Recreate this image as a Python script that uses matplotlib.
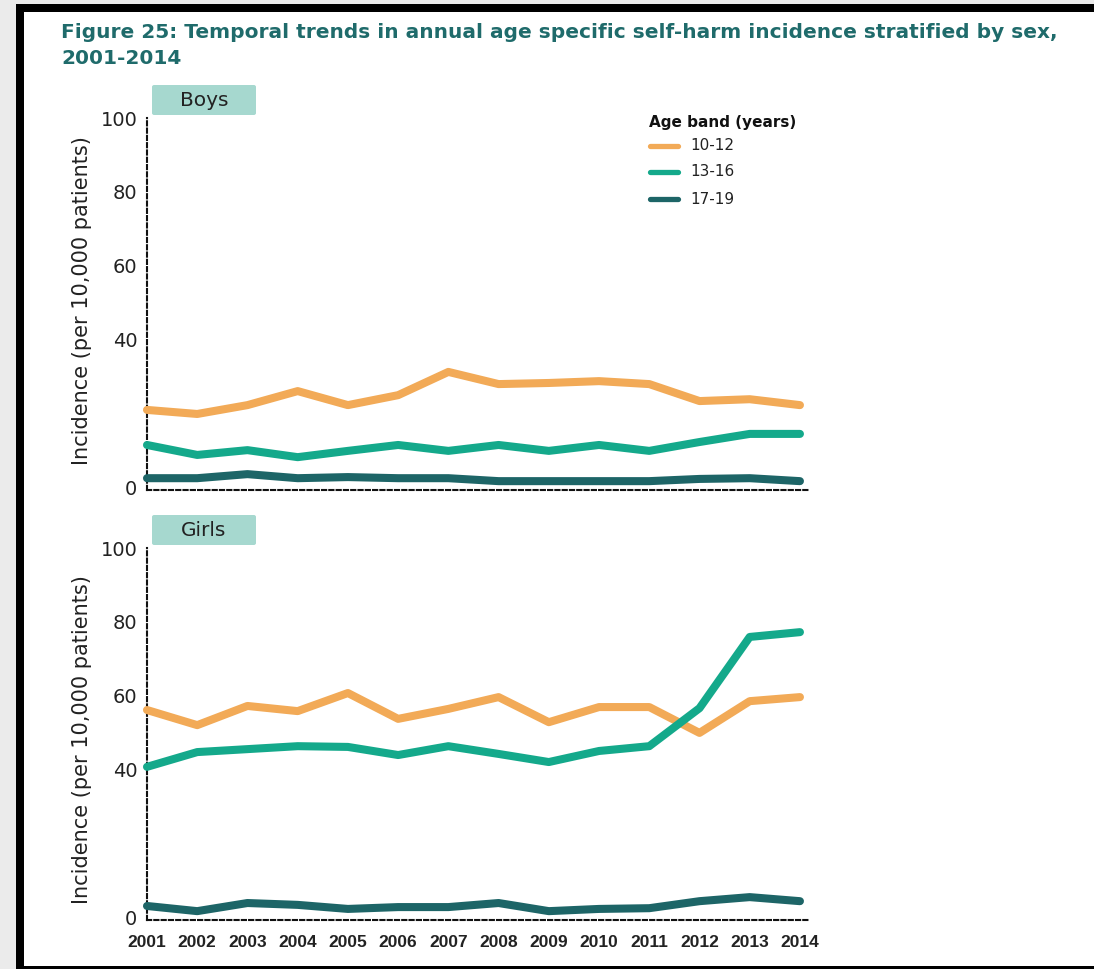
import matplotlib
matplotlib.use("Agg")
import matplotlib.pyplot as plt
from matplotlib.patches import Rectangle, FancyBboxPatch
from matplotlib.lines import Line2D

plt.rcParams['font.family'] = ['DejaVu Sans']

years = list(range(2001, 2015))
age_bands = ["10-12", "13-16", "17-19"]
band_colors = ["#F2AA57", "#14A98B", "#1D6567"]

boys_10_12 = [20.9, 19.8, 22.2, 26.0, 22.2, 24.9, 31.2, 27.9, 28.2, 28.7, 27.9, 23.3, 23.8, 22.2]
boys_13_16 = [11.4, 8.7, 10.0, 8.1, 9.8, 11.4, 9.8, 11.4, 9.8, 11.4, 9.8, 12.2, 14.4, 14.4]
boys_17_19 = [2.4, 2.4, 3.5, 2.4, 2.7, 2.4, 2.4, 1.6, 1.6, 1.6, 1.6, 2.2, 2.4, 1.6]

girls_10_12 = [56.1, 52.0, 57.2, 55.8, 60.7, 53.7, 56.4, 59.6, 52.8, 56.9, 56.9, 49.9, 58.5, 59.6]
girls_13_16 = [40.7, 44.7, 45.5, 46.3, 46.1, 43.9, 46.3, 44.2, 42.0, 45.0, 46.3, 56.6, 75.9, 77.2]
girls_17_19 = [3.0, 1.6, 3.8, 3.3, 2.2, 2.7, 2.7, 3.8, 1.6, 2.2, 2.4, 4.3, 5.4, 4.3]

panel_names = ["Boys", "Girls"]
panel_series = [[boys_10_12, boys_13_16, boys_17_19],
                [girls_10_12, girls_13_16, girls_17_19]]
y_ticks = [0, 40, 60, 80, 100]

W, H = 1094, 969
fig = plt.figure(figsize=(W / 100, H / 100), dpi=100)
fig.patch.set_facecolor("white")


def px(x, y):
    return x / W, 1 - y / H


# page background and frame
fig.add_artist(Rectangle((0, 0), 16 / W, 1, transform=fig.transFigure,
                         facecolor="#EBEBEB", edgecolor="none", zorder=0))
fig.add_artist(Rectangle((0, 1 - 4 / H), 1, 4 / H, transform=fig.transFigure,
                         facecolor="#EBEBEB", edgecolor="none", zorder=0))
fig.add_artist(Rectangle((16 / W, 0), 8 / W, 1 - 4 / H, transform=fig.transFigure,
                         facecolor="black", edgecolor="none", zorder=1))
fig.add_artist(Rectangle((16 / W, 1 - 12 / H), 1, 8 / H, transform=fig.transFigure,
                         facecolor="black", edgecolor="none", zorder=1))
fig.add_artist(Rectangle((16 / W, 0), 1, 3 / H, transform=fig.transFigure,
                         facecolor="black", edgecolor="none", zorder=1))

title_color = "#1F6B6B"
fig.text(*px(61, 33), "Figure 25: Temporal trends in annual age specific self-harm incidence stratified by sex,",
         fontsize=14.5, fontweight="bold", color=title_color, ha="left", va="center")
fig.text(*px(61, 59), "2001-2014",
         fontsize=14.5, fontweight="bold", color=title_color, ha="left", va="center")

ax_left, ax_right = 147, 810
panel_tops = [118, 548]
panel_bottoms = [490, 920]
ylabel_centers = [301, 740]

for i, (name, series) in enumerate(zip(panel_names, panel_series)):
    top, bottom = panel_tops[i], panel_bottoms[i]
    ax = fig.add_axes([ax_left / W, 1 - bottom / H, (ax_right - ax_left) / W, (bottom - top) / H])
    for vals, col in zip(series, band_colors):
        ax.plot(years, vals, color=col, lw=5.8, solid_capstyle="round",
                solid_joinstyle="round", zorder=3, clip_on=False)
    ax.set_xlim(2001, 2014.2)
    ax.set_ylim(-0.8, 100)
    ax.set_yticks(y_ticks)
    ax.set_yticklabels([str(t) for t in y_ticks])
    ax.tick_params(axis="y", length=0, pad=7, labelsize=14, labelcolor="#222222")
    ax.set_xticks(years)
    if i == 1:
        ax.set_xticklabels([str(y) for y in years], fontweight="bold",
                           family="Liberation Sans")
        ax.tick_params(axis="x", length=0, pad=11, labelsize=12.5, labelcolor="#222222")
    else:
        ax.tick_params(axis="x", length=0, labelbottom=False)
    for s in ["top", "right"]:
        ax.spines[s].set_visible(False)
    for s in ["left", "bottom"]:
        ax.spines[s].set_linestyle((0, (2, 1.5)))
        ax.spines[s].set_linewidth(1.5)
        ax.spines[s].set_color("#111111")
    ax.patch.set_alpha(0)

    fig.text(*px(82, ylabel_centers[i]), "Incidence (per 10,000 patients)",
             rotation=90, fontsize=15, color="#222222", ha="center", va="center")

    # panel strip label
    sy = top - 33
    fig.add_artist(FancyBboxPatch(px(152, sy + 30), 104 / W, 30 / H,
                                  boxstyle="round,pad=0,rounding_size=0.002",
                                  transform=fig.transFigure, facecolor="#A6D8CF",
                                  edgecolor="none", zorder=2))
    fig.text(*px(204, sy + 15), name, fontsize=14.5, color="#222222",
             ha="center", va="center", zorder=3)

# legend
fig.text(*px(649, 123), "Age band (years)", fontsize=11, fontweight="bold",
         color="#111111", ha="left", va="center")
legend_rows = [146, 172, 199]
for band, col, ly in zip(age_bands, band_colors, legend_rows):
    x0, y0 = px(650, ly)
    x1, _ = px(678, ly)
    fig.add_artist(Line2D([x0, x1], [y0, y0], transform=fig.transFigure,
                          color=col, lw=3.8, solid_capstyle="round"))
    fig.text(*px(690, ly), band, fontsize=11, color="#222222", ha="left", va="center")

fig.savefig("out.png", dpi=100)
